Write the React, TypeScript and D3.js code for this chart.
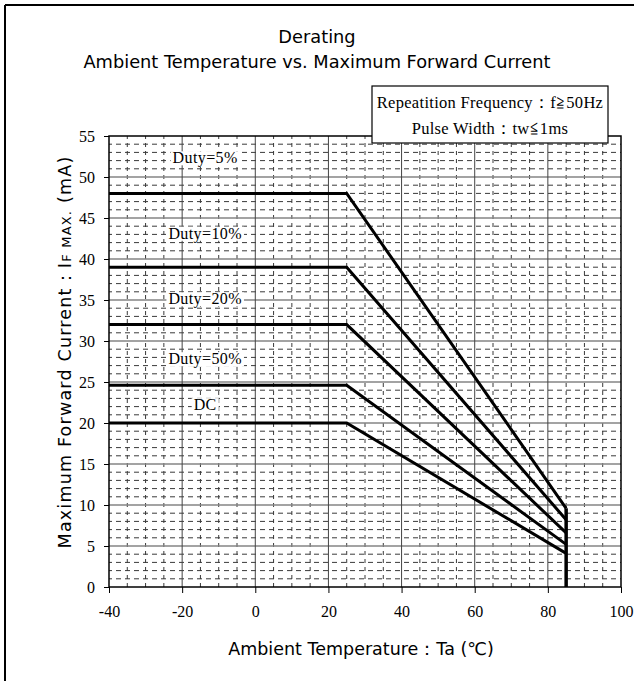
import { useEffect, useRef } from 'react'
import * as d3 from 'd3'

// derating curves: flat up to 25°C, then straight down to 85°C
const temps = [-40, 25, 85]
const duty5 = [48, 48, 9.6]
const duty10 = [39, 39, 8.2]
const duty20 = [32, 32, 6.6]
const duty50 = [24.6, 24.6, 5.2]
const dcCurrent = [20, 20, 4.1]

const curveLabels = ['Duty=5%', 'Duty=10%', 'Duty=20%', 'Duty=50%', 'DC']
const labelTemp = [-13.7, -13.7, -13.7, -13.7, -13.7]
const labelCurrent = [52.4, 43.2, 35.2, 27.9, 22.3]

const xTicks = [-40, -20, 0, 20, 40, 60, 80, 100]
const yTicks = [0, 5, 10, 15, 20, 25, 30, 35, 40, 45, 50, 55]

const W = 634
const H = 681
const SERIF = '"Liberation Serif", "Times New Roman", serif'
const SANS = '"DejaVu Sans", sans-serif'

const App = () => {
  const svgRef = useRef<SVGSVGElement | null>(null)
  const plot = { left: 109, right: 621, top: 136, bottom: 587 }

  useEffect(() => {
    if (!svgRef.current) return
    const svg = d3.select(svgRef.current)
    svg.selectAll('*').remove()

    const x = d3.scaleLinear().domain([-40, 100]).range([plot.left, plot.right])
    const y = d3.scaleLinear().domain([0, 55]).range([plot.bottom, plot.top])

    svg.append('rect').attr('width', W).attr('height', H).attr('fill', 'white')

    // outer frame (left + top visible)
    svg.append('line').attr('x1', 5).attr('x2', 5).attr('y1', 5).attr('y2', H)
      .attr('stroke', 'black').attr('stroke-width', 2)
    svg.append('line').attr('x1', 5).attr('x2', W).attr('y1', 5).attr('y2', 5)
      .attr('stroke', 'black').attr('stroke-width', 2)

    // titles
    svg.append('text').attr('x', 317).attr('y', 43)
      .attr('text-anchor', 'middle')
      .attr('font-family', SANS).attr('font-size', 17.8)
      .text('Derating')
    svg.append('text').attr('x', 317).attr('y', 68)
      .attr('text-anchor', 'middle')
      .attr('font-family', SANS).attr('font-size', 17.8)
      .text('Ambient Temperature vs. Maximum Forward Current')

    const g = svg.append('g')

    // minor dashed grid
    const minorY = d3.range(1, 55).filter(v => v % 5 !== 0)
    g.selectAll('line.minor-y').data(minorY).enter().append('line')
      .attr('x1', plot.left).attr('x2', plot.right)
      .attr('y1', d => y(d)).attr('y2', d => y(d))
      .attr('stroke', '#3a3a3a').attr('stroke-width', 1)
      .attr('stroke-dasharray', '5,4').attr('stroke-dashoffset', 2)
    const minorX = d3.range(-35, 100, 5).filter(v => v % 20 !== 0)
    g.selectAll('line.minor-x').data(minorX).enter().append('line')
      .attr('y1', plot.bottom).attr('y2', plot.top)
      .attr('x1', d => x(d)).attr('x2', d => x(d))
      .attr('stroke', '#3a3a3a').attr('stroke-width', 1)
      .attr('stroke-dasharray', '4,4')

    // major grid
    g.selectAll('line.major-y').data(yTicks.slice(1, -1)).enter().append('line')
      .attr('x1', plot.left).attr('x2', plot.right)
      .attr('y1', d => y(d)).attr('y2', d => y(d))
      .attr('stroke', '#858585').attr('stroke-width', 1.5)
    g.selectAll('line.major-x').data(xTicks.slice(1, -1)).enter().append('line')
      .attr('y1', plot.bottom).attr('y2', plot.top)
      .attr('x1', d => x(d)).attr('x2', d => x(d))
      .attr('stroke', '#444').attr('stroke-width', 1)

    // plot frame
    g.append('rect')
      .attr('x', plot.left).attr('y', plot.top)
      .attr('width', plot.right - plot.left).attr('height', plot.bottom - plot.top)
      .attr('fill', 'none').attr('stroke', 'black').attr('stroke-width', 1.5)

    // axes
    const xAxis = g.append('g')
      .attr('transform', `translate(0,${plot.bottom})`)
      .call(d3.axisBottom(x).tickValues(xTicks).tickSize(6).tickPadding(13).tickFormat(d => String(d)))
    const yAxis = g.append('g')
      .attr('transform', `translate(${plot.left},0)`)
      .call(d3.axisLeft(y).tickValues(yTicks).tickSize(5).tickPadding(9).tickFormat(d => String(d)))
    ;[xAxis, yAxis].forEach(a => {
      a.attr('font-family', SERIF).attr('font-size', 16)
      a.select('.domain').remove()
      a.selectAll('line').attr('stroke', 'black').attr('stroke-width', 1)
      a.selectAll('text').attr('font-family', SERIF).attr('font-size', 16).attr('fill', 'black')
    })

    // derating curves
    const series = [duty5, duty10, duty20, duty50, dcCurrent]
    const line = d3.line<[number, number]>().x(d => x(d[0])).y(d => y(d[1]))
    series.forEach(vals => {
      g.append('path')
        .attr('d', line(temps.map((t, i) => [t, vals[i]] as [number, number])))
        .attr('fill', 'none').attr('stroke', 'black').attr('stroke-width', 3)
        .attr('stroke-linejoin', 'miter')
    })
    // cut-off at 85°C
    const cutTemp = temps[temps.length - 1]
    g.append('line')
      .attr('x1', x(cutTemp)).attr('x2', x(cutTemp))
      .attr('y1', y(0)).attr('y2', y(d3.max(series, s => s[s.length - 1]) as number))
      .attr('stroke', 'black').attr('stroke-width', 3.5)

    // curve labels with white boxes
    curveLabels.forEach((txt, i) => {
      const t = g.append('text')
        .attr('x', x(labelTemp[i])).attr('y', y(labelCurrent[i]) + 6)
        .attr('text-anchor', 'middle')
        .attr('font-family', SERIF).attr('font-size', 16)
        .style('letter-spacing', '0.4px')
        .text(txt)
      const bb = (t.node() as SVGTextElement).getBBox()
      g.insert('rect', () => t.node() as SVGTextElement)
        .attr('x', bb.x - 2).attr('y', bb.y + 2)
        .attr('width', bb.width + 4).attr('height', bb.height - 4)
        .attr('fill', 'white')
    })

    // legend box
    const lg = svg.append('g')
    lg.append('rect').attr('x', 372).attr('y', 86).attr('width', 236).attr('height', 57)
      .attr('fill', 'white').attr('stroke', 'black').attr('stroke-width', 1.2)
    lg.append('text').attr('x', 490).attr('y', 108).attr('text-anchor', 'middle')
      .attr('font-family', SERIF).attr('font-size', 16.5).style('letter-spacing', '0.3px')
      .text('Repeatition Frequency：f≧50Hz')
    lg.append('text').attr('x', 490).attr('y', 134).attr('text-anchor', 'middle')
      .attr('font-family', SERIF).attr('font-size', 16.5).style('letter-spacing', '0.3px')
      .text('Pulse Width：tw≦1ms')

    // axis titles
    svg.append('text').attr('x', 361).attr('y', 655)
      .attr('text-anchor', 'middle')
      .attr('font-family', SANS).attr('font-size', 17.5)
      .text('Ambient Temperature：Ta (℃)')

    const yt = svg.append('text')
      .attr('transform', `translate(71,352) rotate(-90)`)
      .attr('text-anchor', 'middle')
      .attr('font-family', SANS).attr('font-size', 17.5)
      .style('letter-spacing', '1.2px')
    yt.append('tspan').text('Maximum Forward Current：I')
    yt.append('tspan').attr('font-size', 13).text('F MAX.')
    yt.append('tspan').text(' (mA)')
  }, [])

  return (
    <svg
      ref={svgRef}
      width={W}
      height={H}
      style={{ position: 'absolute', left: 0, top: 0, background: 'white' }}
    />
  )
}

export default App
